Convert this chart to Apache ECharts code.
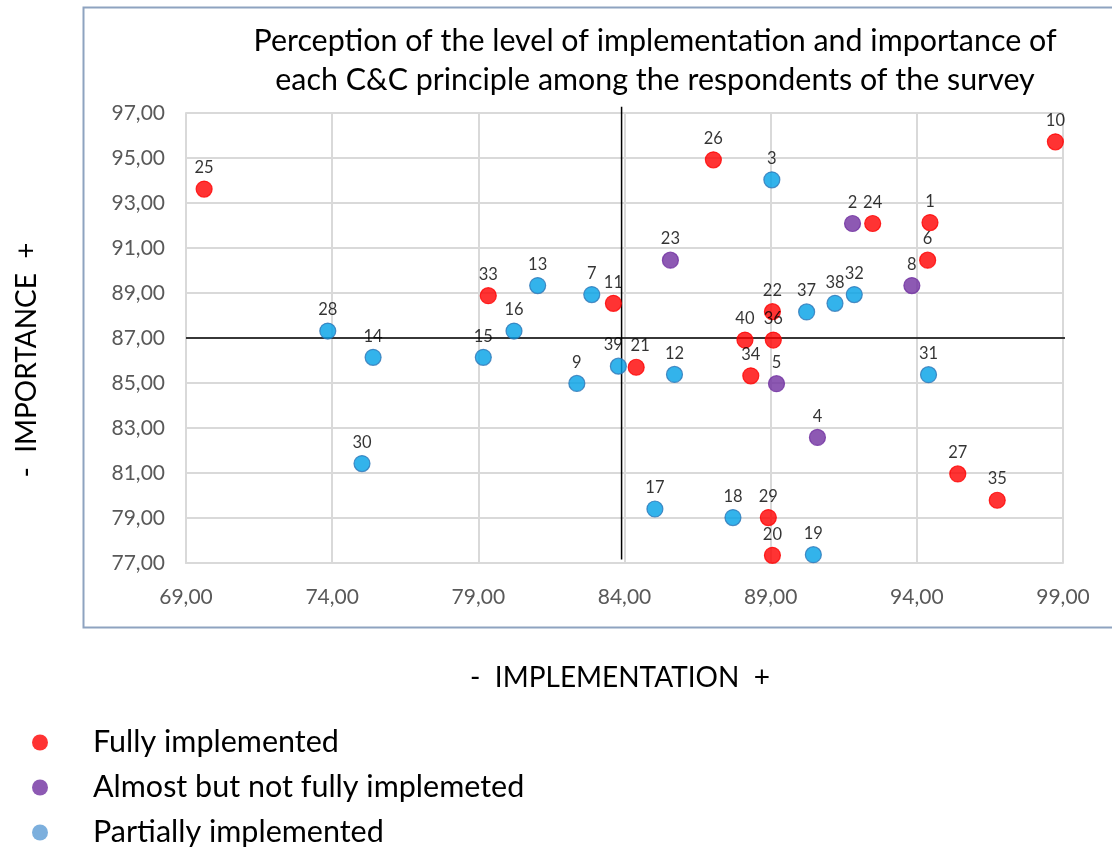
<!DOCTYPE html>
<html>
<head>
<meta charset="utf-8">
<script src="https://cdn.jsdelivr.net/npm/echarts@6/dist/echarts.min.js"></script>
<style>html,body{margin:0;padding:0;background:#fff}#c{width:1112px;height:850px}</style>
</head>
<body>
<div id="c"></div>
<script>
// [implementation, importance, principle id]
var fullyImplemented = [
  [69.62, 93.62, 25], [79.34, 88.88, 33], [83.62, 88.54, 11], [87.04, 94.92, 26],
  [92.49, 92.09, 24], [94.45, 92.13, 1], [94.37, 90.46, 6], [89.06, 88.17, 22],
  [98.74, 95.72, 10], [88.12, 86.91, 40], [89.09, 86.91, 36], [84.40, 85.70, 21],
  [88.32, 85.32, 34], [95.40, 80.96, 27], [96.75, 79.79, 35], [88.92, 79.02, 29],
  [89.06, 77.34, 20]
];
var almostImplemented = [
  [91.80, 92.09, 2], [85.57, 90.46, 23], [93.83, 89.33, 8], [89.20, 84.97, 5],
  [90.60, 82.58, 4]
];
var partiallyImplemented = [
  [73.85, 87.31, 28], [80.22, 87.31, 16], [81.03, 89.33, 13], [82.88, 88.93, 7],
  [89.04, 94.03, 3], [91.86, 88.93, 32], [91.20, 88.54, 38], [90.23, 88.16, 37],
  [83.79, 85.75, 39], [85.71, 85.38, 12], [94.40, 85.37, 31], [85.04, 79.40, 17],
  [87.71, 79.02, 18], [90.46, 77.37, 19], [75.40, 86.14, 14], [79.17, 86.14, 15],
  [82.37, 84.98, 9], [75.02, 81.42, 30]
];
var seriesNames = ['Fully implemented', 'Almost but not fully implemeted', 'Partially implemented'];
var verticalDivider = [[83.9, 97.28], [83.9, 77.16]];
var horizontalDivider = [[69, 87], [99.07, 87]];
var xTicks = {min: 69, max: 99, interval: 5};
var yTicks = {min: 77, max: 97, interval: 2};

var FONT = 'Lato';
// small label nudges to avoid overlapping labels (styling only)
var labelNudge = {39: [-5, 0], 21: [4, 0]};
function fmt(v){ return v.toFixed(2).replace('.', ','); }
function pointSeries(name, data, color, border, z){
  return {
    name: name, type: 'scatter', z: z,
    data: data.map(function(d){
      var item = {value: d};
      if (labelNudge[d[2]]) item.label = {offset: labelNudge[d[2]]};
      return item;
    }),
    symbolSize: 16,
    itemStyle: {color: color, borderColor: border, borderWidth: 1.2},
    label: {show: true, position: 'top', distance: 4, color: '#000', fontFamily: FONT, fontSize: 16.5,
      formatter: function(p){ return p.value[2]; }},
    emphasis: {disabled: true}
  };
}
var chart = echarts.init(document.getElementById('c'), null, {renderer: 'canvas'});
chart.setOption({
  backgroundColor: '#fff',
  animation: false,
  title: {
    text: 'Perception of the level of implementation and importance of\neach C&C principle among the respondents of the survey',
    left: 650, top: 17, textAlign: 'center',
    textStyle: {fontFamily: FONT, fontSize: 30.4, fontWeight: 'normal', color: '#000', lineHeight: 39}
  },
  grid: {left: 186, right: 49, top: 113, bottom: 287, containLabel: false},
  xAxis: {
    type: 'value', min: xTicks.min, max: xTicks.max, interval: xTicks.interval,
    axisLine: {show: true, lineStyle: {color: '#D9D9D9', width: 2}},
    axisTick: {show: false},
    splitLine: {show: true, lineStyle: {color: '#D9D9D9', width: 2}},
    axisLabel: {formatter: fmt, fontFamily: FONT, fontSize: 21, color: '#595959', margin: 24}
  },
  yAxis: {
    type: 'value', min: yTicks.min, max: yTicks.max, interval: yTicks.interval,
    axisLine: {show: true, lineStyle: {color: '#D9D9D9', width: 2}},
    axisTick: {show: false},
    splitLine: {show: true, lineStyle: {color: '#D9D9D9', width: 2}},
    axisLabel: {formatter: fmt, fontFamily: FONT, fontSize: 21, color: '#595959', margin: 21}
  },
  legend: {
    orient: 'vertical', left: 32, top: 727, height: 130, padding: 0, itemGap: 14,
    itemWidth: 16, itemHeight: 16,
    textStyle: {fontFamily: FONT, fontSize: 30.5, color: '#000', padding: [0, 0, 0, 40]},
    data: [
      {name: seriesNames[0], icon: 'circle', itemStyle: {color: '#FF0000', borderWidth: 0}},
      {name: seriesNames[1], icon: 'circle', itemStyle: {color: '#7030A0', borderWidth: 0}},
      {name: seriesNames[2], icon: 'circle', itemStyle: {color: '#5B9BD5', borderWidth: 0}}
    ]
  },
  graphic: [{
    type: 'rect', shape: {x: 83.5, y: 7.5, width: 1040, height: 620},
    style: {fill: 'none', stroke: '#8EA3C0', lineWidth: 2}, silent: true, z: -1
  }, {
    type: 'text', x: 620, y: 678,
    style: {text: '-  IMPLEMENTATION  +', fontFamily: FONT, fontSize: 28, fill: '#000',
      textAlign: 'center', textVerticalAlign: 'middle'}, silent: true
  }, {
    type: 'text', x: 27, y: 360, rotation: Math.PI / 2,
    style: {text: '-  IMPORTANCE  +', fontFamily: FONT, fontSize: 28, fill: '#000',
      textAlign: 'center', textVerticalAlign: 'middle'}, silent: true
  }],
  series: [
    {type: 'line', data: verticalDivider, symbol: 'none', clip: false, silent: true, z: 1,
      lineStyle: {color: '#000', width: 1.5}, emphasis: {disabled: true}},
    {type: 'line', data: horizontalDivider, symbol: 'none', clip: false, silent: true, z: 1,
      lineStyle: {color: '#000', width: 1.5}, emphasis: {disabled: true}},
    pointSeries(seriesNames[2], partiallyImplemented, '#00A0E6', '#2E75B6', 3),
    pointSeries(seriesNames[1], almostImplemented, '#7030A0', '#7030A0', 4),
    pointSeries(seriesNames[0], fullyImplemented, '#FF0000', '#FF0000', 5)
  ]
});
</script>
</body>
</html>
